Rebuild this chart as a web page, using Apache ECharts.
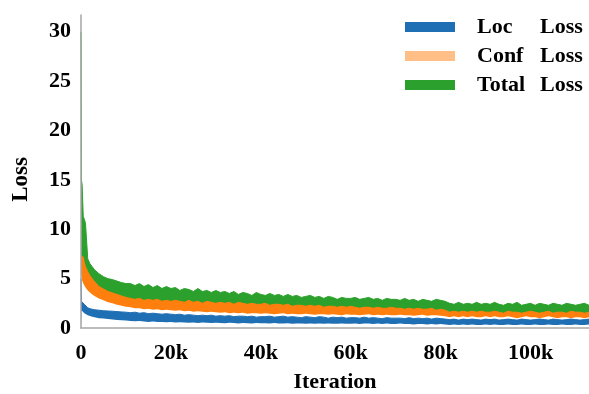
<!DOCTYPE html>
<html>
<head>
<meta charset="utf-8">
<script src="https://cdn.jsdelivr.net/npm/echarts@6/dist/echarts.min.js"></script>
<style>
    html, body { margin: 0; padding: 0; background: #fff; }
    #loss { width: 589px; height: 394px; }
</style>
</head>
<body>
<div id="loss"></div>
<script>
// iteration, in thousands
var iterK = [0, 0.1, 0.25, 0.5, 0.75, 1, 1.5, 2, 2.5, 3, 4, 5, 6, 7, 8, 9, 10,
    11, 12, 13, 14, 15, 16, 17, 18, 19, 20,
    21, 22, 23, 24, 25, 26, 27, 28, 29, 30,
    31, 32, 33, 34, 35, 36, 37, 38, 39, 40,
    41, 42, 43, 44, 45, 46, 47, 48, 49, 50,
    51, 52, 53, 54, 55, 56, 57, 58, 59, 60,
    61, 62, 63, 64, 65, 66, 67, 68, 69, 70,
    71, 72, 73, 74, 75, 76, 77, 78, 79, 80,
    81, 82, 83, 84, 85, 86, 87, 88, 89, 90,
    91, 92, 93, 94, 95, 96, 97, 98, 99, 100,
    101, 102, 103, 104, 105, 106, 107, 108, 109, 110,
    111, 112, 113];

// upper edge of the total loss band
var totalUpper = [30, 15, 14.5, 11.3, 11.0, 10.6, 7.0, 6.5, 6.2, 5.9, 5.5, 5.2, 5.0, 4.9, 4.75, 4.6, 4.5,
    4.5, 4.3, 4.5, 4.2, 4.4, 4.1, 4.3, 4.0, 4.2, 4.0,
    4.1, 3.8, 4.0, 3.9, 3.7, 4.0, 3.7, 3.8, 3.6, 3.8,
    3.6, 3.7, 3.5, 3.7, 3.4, 3.6, 3.5, 3.3, 3.6, 3.4,
    3.3, 3.5, 3.3, 3.4, 3.2, 3.4, 3.2, 3.3, 3.1, 3.2,
    3.3, 3.1, 3.2, 3.0, 3.2, 3.1, 2.9, 3.1, 3.0, 3.0,
    3.1, 2.9, 3.0, 3.1, 2.9, 3.0, 2.8, 3.0, 2.9, 2.9,
    2.8, 3.0, 2.8, 2.9, 2.7, 2.9, 2.8, 2.7, 2.9, 2.8,
    2.7, 2.5, 2.4, 2.6, 2.4, 2.5, 2.4, 2.6, 2.4, 2.5,
    2.4, 2.6, 2.4, 2.3, 2.5, 2.4, 2.6, 2.3, 2.4, 2.5,
    2.3, 2.5, 2.4, 2.3, 2.5, 2.4, 2.3, 2.5, 2.4, 2.3,
    2.4, 2.5, 2.3];

// conf loss band: upper and lower edge
var confUpper = [7.3, 7.4, 7.4, 7.2, 6.6, 6.2, 5.7, 5.3, 5.0, 4.7, 4.2, 3.95, 3.7, 3.55, 3.4, 3.25, 3.1,
    3.0, 2.9, 3.0, 2.8, 2.9, 2.8, 2.9, 2.7, 2.8, 2.7,
    2.8, 2.7, 2.6, 2.8, 2.6, 2.7, 2.5, 2.7, 2.6, 2.5,
    2.6, 2.5, 2.6, 2.4, 2.6, 2.5, 2.4, 2.5, 2.4, 2.4,
    2.5, 2.3, 2.4, 2.4, 2.3, 2.4, 2.2, 2.3, 2.3, 2.2,
    2.3, 2.2, 2.3, 2.1, 2.2, 2.2, 2.1, 2.2, 2.1, 2.2,
    2.1, 2.0, 2.1, 2.1, 2.0, 2.1, 2.0, 2.0, 2.1, 2.0,
    2.0, 1.9, 2.0, 1.9, 2.0, 1.9, 1.9, 2.0, 1.8, 1.9,
    1.8, 1.6, 1.7, 1.6, 1.7, 1.6, 1.7, 1.6, 1.7, 1.6,
    1.6, 1.7, 1.6, 1.5, 1.7, 1.6, 1.6, 1.5, 1.6, 1.7,
    1.6, 1.5, 1.6, 1.7, 1.5, 1.6, 1.6, 1.5, 1.7, 1.6,
    1.6, 1.5, 1.6];
var confLower = [5.5, 5.3, 4.8, 4.5, 4.3, 4.1, 3.8, 3.6, 3.4, 3.25, 3.0, 2.8, 2.6, 2.5, 2.35, 2.25, 2.15,
    2.1, 2.0, 2.0, 1.9, 1.95, 1.85, 1.9, 1.8, 1.85, 1.8,
    1.75, 1.8, 1.7, 1.75, 1.65, 1.7, 1.65, 1.6, 1.65, 1.6,
    1.55, 1.6, 1.5, 1.55, 1.5, 1.55, 1.45, 1.5, 1.5, 1.45,
    1.5, 1.45, 1.4, 1.45, 1.5, 1.4, 1.45, 1.4, 1.4, 1.45,
    1.4, 1.35, 1.4, 1.4, 1.35, 1.4, 1.35, 1.3, 1.4, 1.35,
    1.35, 1.3, 1.35, 1.4, 1.3, 1.35, 1.3, 1.35, 1.3, 1.3,
    1.35, 1.3, 1.3, 1.25, 1.3, 1.35, 1.25, 1.3, 1.3, 1.25,
    1.2, 1.1, 1.2, 1.1, 1.2, 1.1, 1.2, 1.1, 1.1, 1.2,
    1.1, 1.2, 1.1, 1.1, 1.2, 1.1, 1.0, 1.1, 1.2, 1.1,
    1.1, 1.0, 1.1, 1.2, 1.1, 1.0, 1.1, 1.1, 1.0, 1.1,
    1.1, 1.0, 1.1];

// loc loss band: upper and lower edge
var locUpper = [5.0, 2.7, 2.65, 2.55, 2.4, 2.25, 2.05, 1.95, 1.9, 1.85, 1.8, 1.75, 1.72, 1.7, 1.66, 1.63, 1.6,
    1.55, 1.6, 1.5, 1.55, 1.45, 1.5, 1.45, 1.4, 1.45, 1.4,
    1.35, 1.4, 1.3, 1.35, 1.3, 1.25, 1.3, 1.25, 1.3, 1.2,
    1.25, 1.2, 1.25, 1.15, 1.2, 1.2, 1.15, 1.2, 1.1, 1.15,
    1.15, 1.2, 1.1, 1.15, 1.2, 1.1, 1.15, 1.1, 1.05, 1.15,
    1.1, 1.05, 1.15, 1.1, 1.0, 1.1, 1.05, 1.1, 1.0, 1.05,
    1.05, 1.0, 1.1, 1.0, 1.05, 1.0, 0.95, 1.05, 1.0, 1.0,
    1.0, 0.95, 1.05, 0.95, 1.0, 0.95, 1.0, 0.9, 1.0, 0.95,
    0.9, 0.85, 0.9, 0.8, 0.9, 0.85, 0.9, 0.85, 0.8, 0.9,
    0.85, 0.9, 0.8, 0.85, 0.9, 0.85, 0.8, 0.9, 0.85, 0.8,
    0.85, 0.9, 0.85, 0.8, 0.9, 0.85, 0.8, 0.85, 0.9, 0.85,
    0.8, 0.85, 0.9];
var locLower = [0, 1.8, 1.7, 1.6, 1.5, 1.4, 1.3, 1.22, 1.15, 1.1, 1.0, 0.95, 0.9, 0.85, 0.8, 0.78, 0.75,
    0.72, 0.68, 0.7, 0.65, 0.62, 0.65, 0.6, 0.62, 0.58, 0.6,
    0.55, 0.58, 0.55, 0.52, 0.55, 0.5, 0.55, 0.52, 0.5, 0.52,
    0.5, 0.48, 0.52, 0.5, 0.46, 0.5, 0.48, 0.45, 0.5, 0.48,
    0.48, 0.45, 0.5, 0.46, 0.45, 0.48, 0.44, 0.46, 0.45, 0.42,
    0.46, 0.44, 0.45, 0.42, 0.46, 0.43, 0.44, 0.46, 0.42, 0.44,
    0.45, 0.4, 0.45, 0.45, 0.4, 0.45, 0.4, 0.45, 0.4, 0.4,
    0.45, 0.4, 0.4, 0.35, 0.4, 0.4, 0.35, 0.4, 0.35, 0.4,
    0.35, 0.3, 0.35, 0.3, 0.35, 0.3, 0.35, 0.3, 0.3, 0.35,
    0.3, 0.35, 0.3, 0.3, 0.35, 0.3, 0.3, 0.35, 0.3, 0.3,
    0.35, 0.3, 0.3, 0.35, 0.3, 0.3, 0.35, 0.3, 0.3, 0.35,
    0.3, 0.3, 0.35];

var FONT = '"Liberation Serif", "Times New Roman", serif';

function pairs(vals) {
    var out = [];
    for (var i = 0; i < iterK.length; i++) {
        out.push([iterK[i], vals[i]]);
    }
    return out;
}

// each band is painted as an area down to 0, the white ones cut the gaps
function band(name, vals, color, edge) {
    return {
        name: name,
        type: 'line',
        data: pairs(vals),
        symbol: 'none',
        smooth: false,
        silent: true,
        color: color,
        lineStyle: {width: edge, color: color},
        areaStyle: {color: color, opacity: 1}
    };
}

var myChart = echarts.init(document.getElementById('loss'));

var option = {
    animation: false,
    backgroundColor: '#fff',
    grid: {left: 81, right: 0, top: 15, bottom: 66, outerBoundsMode: 'none'},
    legend: {
        orient: 'vertical',
        left: 400,
        top: 11,
        itemWidth: 50,
        itemHeight: 10,
        itemGap: 7,
        icon: 'rect',
        data: [
            {name: 'Loc Loss', itemStyle: {color: '#1f6fb4'}},
            {name: 'Conf Loss', itemStyle: {color: '#ffbf86'}},
            {name: 'Total Loss', itemStyle: {color: '#2ca02c'}}
        ],
        formatter: function (name) {
            var parts = name.split(' ');
            return '{a|' + parts[0] + '}{b|' + parts[1] + '}';
        },
        textStyle: {
            fontFamily: FONT,
            fontWeight: 'bold',
            fontSize: 22,
            color: '#000',
            rich: {
                a: {fontFamily: FONT, fontWeight: 'bold', fontSize: 22, width: 63, padding: [0, 0, 0, 17], lineHeight: 22},
                b: {fontFamily: FONT, fontWeight: 'bold', fontSize: 22, lineHeight: 22}
            }
        }
    },
    xAxis: {
        type: 'value',
        min: 0,
        max: 113,
        interval: 20,
        z: 10,
        name: 'Iteration',
        nameLocation: 'middle',
        nameGap: 43,
        nameTextStyle: {fontFamily: FONT, fontWeight: 'bold', fontSize: 22, color: '#000'},
        axisLine: {lineStyle: {color: '#a6a6a6', width: 1.5}},
        axisTick: {show: false},
        splitLine: {show: false},
        axisLabel: {
            margin: 14,
            showMaxLabel: false,
            fontFamily: FONT,
            fontWeight: 'bold',
            fontSize: 22,
            color: '#000',
            formatter: function (v) {
                return v === 0 ? '0' : v + 'k';
            }
        }
    },
    yAxis: {
        type: 'value',
        min: 0,
        max: 31.7,
        interval: 5,
        z: 10,
        name: 'Loss',
        nameLocation: 'middle',
        nameRotate: 90,
        nameGap: 48,
        nameTextStyle: {fontFamily: FONT, fontWeight: 'bold', fontSize: 23, color: '#000', padding: [0, 16, 0, 0]},
        axisLine: {show: true, lineStyle: {color: '#a6a6a6', width: 1.5}},
        axisTick: {show: false},
        splitLine: {show: false},
        axisLabel: {
            margin: 10,
            showMaxLabel: false,
            fontFamily: FONT,
            fontWeight: 'bold',
            fontSize: 22,
            color: '#000'
        }
    },
    series: [
        band('Total Loss', totalUpper, '#2ca02c', 1),
        band('Conf Loss', confUpper, '#ff7f0e', 1),
        band('confGap', confLower, '#ffffff', 0),
        band('Loc Loss', locUpper, '#1f6fb4', 1),
        band('locGap', locLower, '#ffffff', 0)
    ]
};

myChart.setOption(option);
</script>
</body>
</html>
